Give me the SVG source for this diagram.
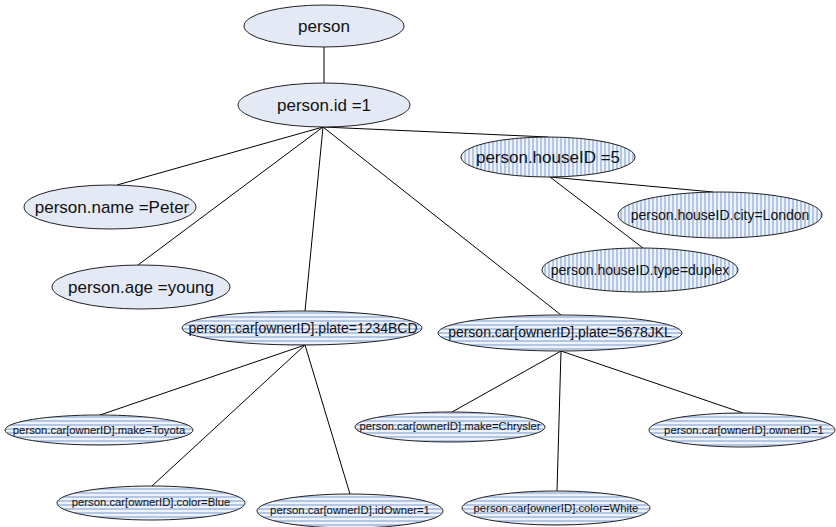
<svg xmlns="http://www.w3.org/2000/svg" width="836" height="527" viewBox="0 0 836 527">
<defs>
<pattern id="hs" patternUnits="userSpaceOnUse" width="4" height="4"><rect width="4" height="4" fill="#eef2f9"/><rect width="4" height="2" fill="#b3c6e6"/></pattern>
<pattern id="vs" patternUnits="userSpaceOnUse" width="4" height="4"><rect width="4" height="4" fill="#eef2f9"/><rect width="2" height="4" fill="#b3c6e6"/></pattern>
</defs>
<style>
ellipse{stroke:#222;stroke-width:1}
.solid{fill:#e4eaf5}
.h{fill:url(#hs)}
.v{fill:url(#vs)}
text{font-family:"Liberation Sans",Arial,sans-serif;fill:#111;text-anchor:middle;dominant-baseline:central}
.t17{font-size:17px}
.t14{font-size:14px}
.t11{font-size:11.3px}
#edges line{stroke:#000;stroke-width:1}
</style>
<rect width="836" height="527" fill="#fff"/>
<g id="edges">
<line x1="324" y1="47" x2="324" y2="83"/>
<line x1="323" y1="127" x2="117" y2="185"/>
<line x1="323" y1="127" x2="138" y2="265"/>
<line x1="323" y1="127" x2="305" y2="311"/>
<line x1="323" y1="127" x2="561" y2="315"/>
<line x1="323" y1="127" x2="548" y2="137"/>
<line x1="550" y1="177" x2="713" y2="192"/>
<line x1="550" y1="177" x2="643" y2="248"/>
<line x1="305" y1="345" x2="100" y2="415"/>
<line x1="305" y1="345" x2="152" y2="486"/>
<line x1="305" y1="345" x2="350" y2="494"/>
<line x1="561" y1="351" x2="452" y2="412"/>
<line x1="561" y1="351" x2="557" y2="491"/>
<line x1="561" y1="351" x2="743" y2="413"/>
</g>
<g id="person"><ellipse class="solid" cx="324" cy="26" rx="80" ry="21"/><text class="t17" x="324" y="26">person</text></g>
<g id="person_id"><ellipse class="solid" cx="324" cy="105" rx="86" ry="22"/><text class="t17" x="324" y="105">person.id =1</text></g>
<g id="houseID"><ellipse class="v" cx="548" cy="157" rx="87" ry="20"/><text class="t17" x="548" y="157">person.houseID =5</text></g>
<g id="city"><ellipse class="v" cx="720" cy="215" rx="102" ry="23"/><text class="t14" x="720" y="215">person.houseID.city=London</text></g>
<g id="type"><ellipse class="v" cx="640" cy="270" rx="98" ry="22"/><text class="t14" x="640" y="270">person.houseID.type=duplex</text></g>
<g id="name"><ellipse class="solid" cx="110" cy="207" rx="86" ry="22"/><text class="t17" x="112" y="207">person.name =Peter</text></g>
<g id="age"><ellipse class="solid" cx="141" cy="287" rx="89" ry="22"/><text class="t17" x="141" y="287">person.age =young</text></g>
<g id="plate1234"><ellipse class="h" cx="302" cy="328" rx="120" ry="17"/><text class="t14" x="303" y="328">person.car[ownerID].plate=1234BCD</text></g>
<g id="plate5678"><ellipse class="h" cx="560" cy="333" rx="122" ry="18"/><text class="t14" x="560" y="332">person.car[ownerID].plate=5678JKL</text></g>
<g id="toyota"><ellipse class="h" cx="99" cy="430" rx="94" ry="15"/><text class="t11" x="99" y="430">person.car[ownerID].make=Toyota</text></g>
<g id="blue"><ellipse class="h" cx="151" cy="503" rx="94" ry="17"/><text class="t11" x="151" y="502">person.car[ownerID].color=Blue</text></g>
<g id="idOwner"><ellipse class="h" cx="350" cy="511" rx="93" ry="17"/><text class="t11" x="350" y="510">person.car[ownerID].idOwner=1</text></g>
<g id="chrysler"><ellipse class="h" cx="450" cy="427" rx="95" ry="15"/><text class="t11" x="450" y="426">person.car[ownerID].make=Chrysler</text></g>
<g id="white"><ellipse class="h" cx="556" cy="508" rx="94" ry="17"/><text class="t11" x="556" y="508">person.car[ownerID].color=White</text></g>
<g id="ownerID"><ellipse class="h" cx="742" cy="430" rx="93" ry="17"/><text class="t11" x="744" y="430">person.car[ownerID].ownerID=1</text></g>
</svg>
